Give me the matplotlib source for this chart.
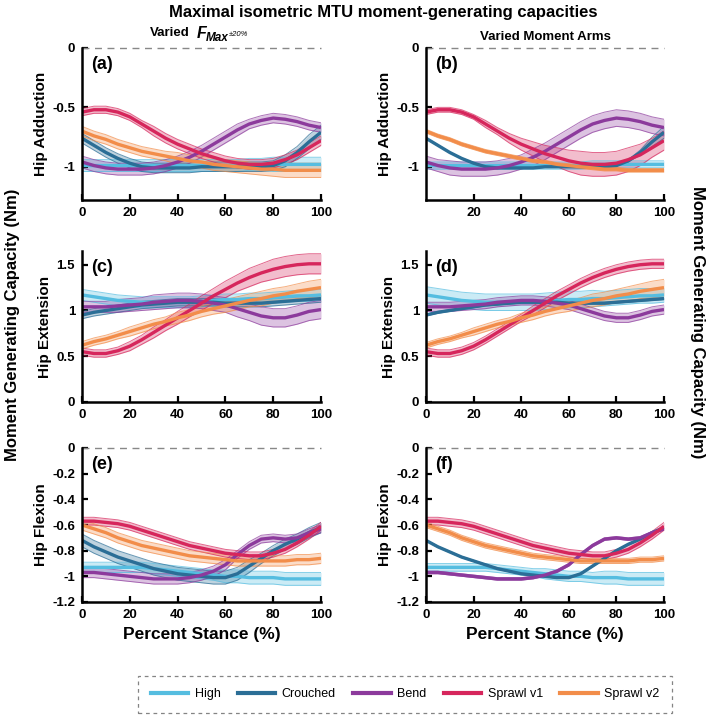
import numpy as np
import matplotlib.pyplot as plt
from matplotlib.lines import Line2D

plt.rcParams['font.family'] = ['Liberation Sans', 'DejaVu Sans']
plt.rcParams['font.weight'] = 'bold'

# percent of stance, sampled every 5 %
x_pct = [0, 5, 10, 15, 20, 25, 30, 35, 40, 45, 50, 55, 60, 65, 70, 75, 80, 85, 90, 95, 100]

series_names = ['High', 'Crouched', 'Bend', 'Sprawl v1', 'Sprawl v2']
series_colors = ['#55bde0', '#2b6e96', '#8c3a9c', '#d6265c', '#f28d4a']

# ---- hip adduction means (panels a, b)
add_high = [-0.99, -0.99, -0.99, -0.99, -0.99, -0.99, -0.99, -0.99, -0.99, -0.99, -0.99, -0.99, -0.99, -0.99, -0.98, -0.98, -0.98, -0.98, -0.98, -0.98, -0.98]
add_crouched = [-0.76, -0.82, -0.88, -0.93, -0.97, -1.00, -1.01, -1.01, -1.01, -1.01, -1.00, -1.00, -1.00, -1.00, -1.00, -1.00, -0.99, -0.95, -0.88, -0.79, -0.71]
add_bend = [-0.96, -0.99, -1.01, -1.02, -1.02, -1.02, -1.01, -0.99, -0.96, -0.92, -0.87, -0.81, -0.75, -0.69, -0.64, -0.61, -0.59, -0.60, -0.62, -0.65, -0.67]
add_v1 = [-0.54, -0.52, -0.52, -0.54, -0.58, -0.64, -0.70, -0.76, -0.81, -0.85, -0.89, -0.92, -0.95, -0.97, -0.98, -0.98, -0.97, -0.94, -0.90, -0.84, -0.78]
add_v2 = [-0.70, -0.74, -0.77, -0.81, -0.84, -0.87, -0.89, -0.91, -0.93, -0.95, -0.96, -0.98, -0.99, -1.00, -1.01, -1.02, -1.02, -1.03, -1.03, -1.03, -1.03]

# ---- hip extension means (panels c, d)
ext_high = [1.17, 1.15, 1.13, 1.11, 1.10, 1.09, 1.09, 1.09, 1.09, 1.09, 1.10, 1.11, 1.12, 1.12, 1.13, 1.13, 1.14, 1.15, 1.16, 1.16, 1.17]
ext_crouched = [0.95, 0.98, 1.00, 1.02, 1.04, 1.06, 1.07, 1.08, 1.09, 1.09, 1.09, 1.09, 1.08, 1.08, 1.08, 1.08, 1.09, 1.10, 1.11, 1.12, 1.13]
ext_bend = [1.04, 1.04, 1.04, 1.05, 1.06, 1.07, 1.09, 1.10, 1.11, 1.11, 1.10, 1.08, 1.06, 1.02, 0.98, 0.94, 0.92, 0.92, 0.95, 0.99, 1.01]
ext_v1 = [0.55, 0.53, 0.53, 0.56, 0.61, 0.68, 0.76, 0.84, 0.92, 1.00, 1.08, 1.16, 1.23, 1.30, 1.36, 1.41, 1.45, 1.48, 1.50, 1.51, 1.51]
ext_v2 = [0.62, 0.66, 0.69, 0.73, 0.77, 0.81, 0.85, 0.88, 0.92, 0.95, 0.99, 1.02, 1.05, 1.08, 1.11, 1.13, 1.16, 1.18, 1.21, 1.23, 1.25]

# ---- hip flexion means (panels e, f)
flx_high = [-0.93, -0.93, -0.93, -0.93, -0.93, -0.93, -0.94, -0.95, -0.96, -0.97, -0.98, -0.99, -1.00, -1.00, -1.01, -1.01, -1.01, -1.02, -1.02, -1.02, -1.02]
flx_crouched = [-0.72, -0.77, -0.81, -0.85, -0.88, -0.91, -0.94, -0.96, -0.98, -0.99, -1.00, -1.01, -1.01, -0.98, -0.92, -0.86, -0.80, -0.75, -0.71, -0.66, -0.62]
flx_bend = [-0.97, -0.97, -0.98, -0.99, -1.00, -1.01, -1.02, -1.02, -1.02, -1.01, -0.99, -0.96, -0.91, -0.83, -0.76, -0.71, -0.70, -0.71, -0.70, -0.66, -0.63]
flx_v1 = [-0.57, -0.57, -0.58, -0.59, -0.61, -0.64, -0.67, -0.70, -0.73, -0.76, -0.78, -0.80, -0.82, -0.83, -0.84, -0.84, -0.82, -0.79, -0.74, -0.68, -0.61]
flx_v2 = [-0.60, -0.63, -0.66, -0.70, -0.73, -0.76, -0.78, -0.80, -0.82, -0.84, -0.85, -0.86, -0.87, -0.88, -0.88, -0.88, -0.88, -0.88, -0.87, -0.87, -0.86]

# ---- band half widths, varied Fmax (left column)
a_high_hw = [0.05, 0.05, 0.05, 0.05, 0.05, 0.05, 0.05, 0.05, 0.05, 0.05, 0.05, 0.05, 0.05, 0.05, 0.05, 0.05, 0.06, 0.06, 0.06, 0.06, 0.06]
a_crouched_hw = [0.04, 0.04, 0.04, 0.04, 0.04, 0.04, 0.04, 0.04, 0.04, 0.04, 0.04, 0.04, 0.04, 0.04, 0.04, 0.04, 0.04, 0.05, 0.05, 0.06, 0.06]
a_bend_hw = [0.05, 0.05, 0.05, 0.05, 0.05, 0.05, 0.05, 0.05, 0.05, 0.05, 0.05, 0.05, 0.05, 0.05, 0.04, 0.04, 0.04, 0.04, 0.04, 0.04, 0.04]
a_v1_hw = [0.03, 0.03, 0.03, 0.03, 0.03, 0.03, 0.04, 0.04, 0.04, 0.04, 0.04, 0.04, 0.04, 0.04, 0.04, 0.04, 0.04, 0.04, 0.04, 0.04, 0.04]
a_v2_hw = [0.04, 0.04, 0.04, 0.04, 0.04, 0.04, 0.04, 0.04, 0.05, 0.05, 0.05, 0.05, 0.05, 0.05, 0.05, 0.05, 0.06, 0.06, 0.06, 0.06, 0.06]

c_high_hw = [0.06, 0.06, 0.06, 0.06, 0.06, 0.06, 0.06, 0.06, 0.06, 0.06, 0.06, 0.06, 0.06, 0.06, 0.06, 0.06, 0.06, 0.06, 0.06, 0.06, 0.06]
c_crouched_hw = [0.04, 0.04, 0.04, 0.04, 0.04, 0.04, 0.04, 0.04, 0.04, 0.04, 0.04, 0.04, 0.04, 0.04, 0.04, 0.04, 0.04, 0.04, 0.04, 0.04, 0.04]
c_bend_hw = [0.06, 0.06, 0.06, 0.07, 0.07, 0.07, 0.08, 0.08, 0.08, 0.08, 0.08, 0.08, 0.08, 0.09, 0.09, 0.10, 0.10, 0.10, 0.10, 0.10, 0.10]
c_v1_hw = [0.04, 0.04, 0.04, 0.04, 0.05, 0.05, 0.06, 0.06, 0.07, 0.07, 0.08, 0.08, 0.09, 0.09, 0.10, 0.10, 0.11, 0.11, 0.11, 0.11, 0.11]
c_v2_hw = [0.04, 0.04, 0.04, 0.04, 0.05, 0.05, 0.05, 0.05, 0.06, 0.06, 0.06, 0.06, 0.07, 0.07, 0.07, 0.08, 0.08, 0.08, 0.08, 0.09, 0.09]

e_high_hw = [0.04, 0.04, 0.04, 0.04, 0.04, 0.04, 0.04, 0.04, 0.04, 0.04, 0.04, 0.04, 0.05, 0.05, 0.05, 0.05, 0.05, 0.05, 0.05, 0.05, 0.05]
e_crouched_hw = [0.05, 0.05, 0.05, 0.05, 0.05, 0.05, 0.05, 0.05, 0.05, 0.05, 0.05, 0.05, 0.05, 0.05, 0.05, 0.04, 0.04, 0.04, 0.04, 0.04, 0.04]
e_bend_hw = [0.04, 0.04, 0.04, 0.04, 0.04, 0.04, 0.04, 0.04, 0.04, 0.04, 0.04, 0.04, 0.04, 0.03, 0.03, 0.03, 0.03, 0.03, 0.03, 0.03, 0.03]
e_v1_hw = [0.03, 0.03, 0.03, 0.03, 0.03, 0.03, 0.03, 0.03, 0.03, 0.03, 0.03, 0.03, 0.03, 0.03, 0.03, 0.03, 0.03, 0.03, 0.03, 0.03, 0.03]
e_v2_hw = [0.04, 0.04, 0.04, 0.04, 0.04, 0.04, 0.04, 0.04, 0.04, 0.04, 0.04, 0.04, 0.04, 0.04, 0.04, 0.04, 0.04, 0.04, 0.04, 0.04, 0.04]

# ---- band half widths, varied moment arms (right column)
b_high_hw = [0.03, 0.03, 0.03, 0.03, 0.03, 0.03, 0.03, 0.03, 0.03, 0.03, 0.03, 0.03, 0.03, 0.03, 0.03, 0.03, 0.03, 0.03, 0.03, 0.03, 0.03]
b_crouched_hw = [0.005, 0.005, 0.005, 0.005, 0.005, 0.005, 0.005, 0.005, 0.005, 0.005, 0.005, 0.005, 0.005, 0.005, 0.005, 0.005, 0.005, 0.01, 0.02, 0.04, 0.05]
b_bend_hw = [0.05, 0.05, 0.06, 0.06, 0.06, 0.06, 0.06, 0.06, 0.06, 0.07, 0.07, 0.07, 0.07, 0.07, 0.07, 0.07, 0.07, 0.07, 0.07, 0.07, 0.07]
b_v1_hw = [0.02, 0.02, 0.02, 0.02, 0.02, 0.03, 0.03, 0.04, 0.05, 0.06, 0.07, 0.08, 0.09, 0.10, 0.10, 0.10, 0.10, 0.10, 0.09, 0.08, 0.08]
b_v2_hw = [0.015, 0.015, 0.015, 0.015, 0.015, 0.015, 0.015, 0.015, 0.015, 0.015, 0.015, 0.015, 0.015, 0.015, 0.015, 0.015, 0.015, 0.015, 0.015, 0.015, 0.015]

d_high_hw = [0.09, 0.09, 0.09, 0.09, 0.09, 0.09, 0.09, 0.09, 0.09, 0.09, 0.09, 0.09, 0.09, 0.09, 0.09, 0.08, 0.08, 0.08, 0.08, 0.08, 0.08]
d_crouched_hw = [0.01, 0.01, 0.01, 0.01, 0.01, 0.01, 0.01, 0.01, 0.01, 0.01, 0.01, 0.01, 0.01, 0.01, 0.01, 0.01, 0.01, 0.01, 0.01, 0.01, 0.01]
d_bend_hw = [0.05, 0.05, 0.05, 0.05, 0.05, 0.05, 0.05, 0.05, 0.05, 0.05, 0.05, 0.05, 0.05, 0.05, 0.05, 0.05, 0.05, 0.05, 0.05, 0.05, 0.05]
d_v1_hw = [0.04, 0.04, 0.04, 0.04, 0.04, 0.04, 0.04, 0.04, 0.04, 0.05, 0.05, 0.05, 0.05, 0.05, 0.05, 0.05, 0.05, 0.05, 0.05, 0.05, 0.05]
d_v2_hw = [0.03, 0.03, 0.03, 0.03, 0.04, 0.04, 0.04, 0.04, 0.05, 0.05, 0.05, 0.05, 0.06, 0.06, 0.07, 0.07, 0.07, 0.08, 0.08, 0.09, 0.09]

f_high_hw = [0.03, 0.03, 0.03, 0.03, 0.03, 0.03, 0.03, 0.03, 0.03, 0.03, 0.04, 0.04, 0.04, 0.04, 0.04, 0.05, 0.05, 0.05, 0.05, 0.05, 0.05]
f_crouched_hw = [0.005, 0.005, 0.005, 0.005, 0.005, 0.005, 0.005, 0.005, 0.005, 0.005, 0.005, 0.005, 0.005, 0.005, 0.005, 0.005, 0.005, 0.005, 0.005, 0.005, 0.005]
f_bend_hw = [0.01, 0.01, 0.01, 0.01, 0.01, 0.01, 0.01, 0.01, 0.01, 0.01, 0.01, 0.01, 0.01, 0.01, 0.01, 0.01, 0.01, 0.01, 0.01, 0.01, 0.01]
f_v1_hw = [0.03, 0.03, 0.03, 0.03, 0.03, 0.03, 0.03, 0.03, 0.03, 0.03, 0.03, 0.03, 0.03, 0.03, 0.03, 0.03, 0.03, 0.03, 0.03, 0.03, 0.03]
f_v2_hw = [0.02, 0.02, 0.02, 0.02, 0.02, 0.02, 0.02, 0.02, 0.02, 0.02, 0.02, 0.02, 0.02, 0.02, 0.02, 0.02, 0.02, 0.02, 0.02, 0.02, 0.02]

add_means = [add_high, add_crouched, add_bend, add_v1, add_v2]
ext_means = [ext_high, ext_crouched, ext_bend, ext_v1, ext_v2]
flx_means = [flx_high, flx_crouched, flx_bend, flx_v1, flx_v2]

# (label, ylabel, means, half widths, ylim, yticks, xticks)
panels = [
	('(a)', 'Hip Adduction', add_means, [a_high_hw, a_crouched_hw, a_bend_hw, a_v1_hw, a_v2_hw], (-1.28, 0), [-1, -0.5, 0], [0, 20, 40, 60, 80, 100]),
	('(b)', 'Hip Adduction', add_means, [b_high_hw, b_crouched_hw, b_bend_hw, b_v1_hw, b_v2_hw], (-1.28, 0), [-1, -0.5, 0], [20, 40, 60, 80, 100]),
	('(c)', 'Hip Extension', ext_means, [c_high_hw, c_crouched_hw, c_bend_hw, c_v1_hw, c_v2_hw], (0, 1.65), [0, 0.5, 1, 1.5], [0, 20, 40, 60, 80, 100]),
	('(d)', 'Hip Extension', ext_means, [d_high_hw, d_crouched_hw, d_bend_hw, d_v1_hw, d_v2_hw], (0, 1.65), [0, 0.5, 1, 1.5], [0, 20, 40, 60, 80, 100]),
	('(e)', 'Hip Flexion', flx_means, [e_high_hw, e_crouched_hw, e_bend_hw, e_v1_hw, e_v2_hw], (-1.2, 0), [-1.2, -1, -0.8, -0.6, -0.4, -0.2, 0], [0, 20, 40, 60, 80, 100]),
	('(f)', 'Hip Flexion', flx_means, [f_high_hw, f_crouched_hw, f_bend_hw, f_v1_hw, f_v2_hw], (-1.2, 0), [-1.2, -1, -0.8, -0.6, -0.4, -0.2, 0], [0, 20, 40, 60, 80, 100]),
]

W, H = 709, 720
fig = plt.figure(figsize=(W / 100, H / 100), dpi=100)

# axes boxes in pixels: left, top, right, bottom
col_x = [(82, 321), (426, 664)]
row_y = [(48, 200), (251, 402), (448, 602)]

x = np.array(x_pct)
for i, (tag, ylab, means, hws, ylim, yticks, xticks) in enumerate(panels):
	x0, x1 = col_x[i % 2]
	y0, y1 = row_y[i // 2]
	ax = fig.add_axes([x0 / W, 1 - y1 / H, (x1 - x0) / W, (y1 - y0) / H])

	# shaded bands first, then the mean lines on top
	for m, hw, c in zip(means, hws, series_colors):
		m = np.array(m)
		hw = np.array(hw)
		ax.fill_between(x, m - hw, m + hw, color=c, alpha=0.3, lw=0)
		ax.plot(x, m - hw, color=c, lw=0.7, alpha=0.7)
		ax.plot(x, m + hw, color=c, lw=0.7, alpha=0.7)
	for m, c in zip(means, series_colors):
		ax.plot(x, m, color=c, lw=2.4, solid_capstyle='butt')

	if ylim[1] == 0:
		ax.axhline(0, color='#888888', ls=(0, (5, 4)), lw=1.0, clip_on=False)

	ax.set_xlim(0, 100)
	ax.set_ylim(*ylim)
	ax.set_xticks(xticks)
	ax.set_yticks(yticks)
	ax.set_yticklabels(['%g' % t for t in yticks])
	ax.spines['top'].set_visible(False)
	ax.spines['right'].set_visible(False)
	ax.spines['left'].set_linewidth(1.8)
	ax.spines['bottom'].set_linewidth(1.8)
	ax.tick_params(direction='in', length=4, width=1.6, labelsize=9.5, pad=5)
	ax.set_ylabel(ylab, fontsize=11, fontweight='bold', labelpad=3)
	ax.text(0.04, 0.95, tag, transform=ax.transAxes, fontsize=13, fontweight='bold', va='top', ha='left')
	if i >= 4:
		ax.set_xlabel('Percent Stance (%)', fontsize=12.5, fontweight='bold', labelpad=4)

# titles
fig.text(383 / W, 1 - 12 / H, 'Maximal isometric MTU moment-generating capacities', fontsize=12, fontweight='bold', ha='center', va='center')
fig.text(150 / W, 1 - 33 / H, 'Varied', fontsize=9.5, fontweight='bold', ha='left', va='center')
fig.text(197 / W, 1 - 33 / H, 'F', fontsize=11.5, fontweight='bold', style='italic', ha='left', va='center')
fig.text(206 / W, 1 - 38 / H, 'Max', fontsize=8.5, fontweight='bold', style='italic', ha='left', va='center')
fig.text(229 / W, 1 - 35 / H, '\u00b120%', fontsize=5.5, fontweight='normal', style='italic', ha='left', va='center')
fig.text(545 / W, 1 - 37 / H, 'Varied Moment Arms', fontsize=9.5, fontweight='bold', ha='center', va='center')

fig.text(13 / W, 1 - 325 / H, 'Moment Generating Capacity (Nm)', fontsize=12, fontweight='bold', rotation=90, ha='center', va='center')
fig.text(697 / W, 1 - 322 / H, 'Moment Generating Capacity (Nm)', fontsize=12, fontweight='bold', rotation=-90, ha='center', va='center')

# legend in dashed box
handles = [Line2D([0], [0], color=c, lw=3) for c in series_colors]
leg = fig.legend(handles, series_names, loc='center', bbox_to_anchor=(405 / W, 1 - 694 / H), ncol=5, frameon=True, fancybox=False, handlelength=3.0, handletextpad=0.5, columnspacing=1.4, borderpad=1.0, borderaxespad=0, prop={'weight': 'normal', 'size': 9})
leg.get_frame().set_edgecolor('#666666')
leg.get_frame().set_linestyle((0, (3, 3)))
leg.get_frame().set_linewidth(0.9)

plt.savefig('out.png', dpi=100)
